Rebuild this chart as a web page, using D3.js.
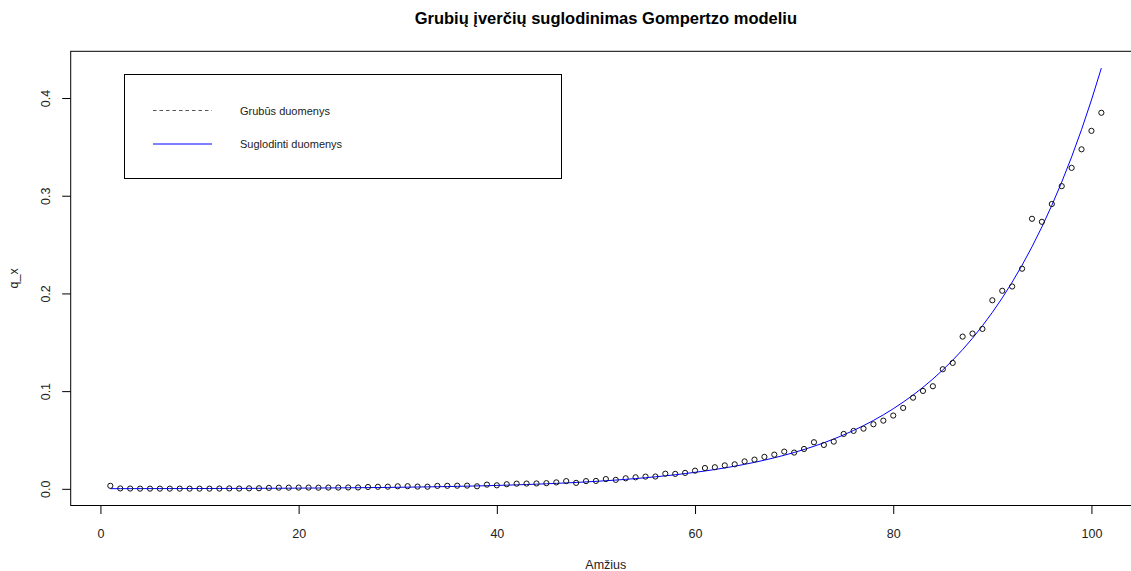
<!DOCTYPE html>
<html>
<head>
<meta charset="utf-8">
<script src="https://cdn.jsdelivr.net/npm/d3@7/dist/d3.min.js"></script>
<style>
  html, body { margin: 0; padding: 0; background: #fff; }
  svg { display: block; font-family: "Liberation Sans", Arial, sans-serif; }
</style>
</head>
<body>
<svg id="chart" width="1131" height="571"></svg>
<script>
// Ages 1..101
const ages = d3.range(1, 102);

// Crude (raw) mortality estimates q_x by age
const rawQ = [
  0.0031, 0.0004, 0.0003, 0.0002, 0.0002, 0.0002, 0.0002, 0.0002, 0.0002, 0.0002,
  0.0002, 0.0003, 0.0004, 0.0003, 0.0005, 0.0006, 0.0010, 0.0012, 0.0012, 0.0013,
  0.0013, 0.0012, 0.0013, 0.0013, 0.0014, 0.0014, 0.0019, 0.0021, 0.0022, 0.0026,
  0.0027, 0.0023, 0.0022, 0.0030, 0.0031, 0.0032, 0.0033, 0.0026, 0.0043, 0.0036,
  0.0047, 0.0053, 0.0054, 0.0055, 0.0058, 0.0066, 0.0079, 0.0061, 0.0079, 0.0081,
  0.0100, 0.0092, 0.0108, 0.0118, 0.0125, 0.0126, 0.0155, 0.0153, 0.0163, 0.0186,
  0.0213, 0.0221, 0.0240, 0.0251, 0.0281, 0.0299, 0.0327, 0.0350, 0.0381, 0.0371,
  0.0408, 0.0477, 0.0449, 0.0483, 0.0562, 0.0593, 0.0616, 0.0661, 0.0698, 0.0750,
  0.0828, 0.0933, 0.1002, 0.1050, 0.1224, 0.1289, 0.1558, 0.1589, 0.1637, 0.1930,
  0.2027, 0.2071, 0.2253, 0.2764, 0.2733, 0.2915, 0.3098, 0.3285, 0.3475, 0.3664,
  0.3849
];

// Gompertz-smoothed q_x by age
const smoothQ = [
  0.00016, 0.00017, 0.00019, 0.00020, 0.00022, 0.00024, 0.00026, 0.00028, 0.00030, 0.00033,
  0.00035, 0.00038, 0.00041, 0.00045, 0.00048, 0.00052, 0.00057, 0.00061, 0.00066, 0.00072,
  0.00078, 0.00084, 0.00091, 0.00098, 0.00106, 0.00115, 0.00124, 0.00135, 0.00146, 0.00158,
  0.00171, 0.00185, 0.00200, 0.00217, 0.00234, 0.00254, 0.00274, 0.00297, 0.00321, 0.00348,
  0.00376, 0.00407, 0.00441, 0.00477, 0.00516, 0.00559, 0.00605, 0.00654, 0.00708, 0.00766,
  0.00829, 0.00897, 0.00971, 0.01051, 0.01137, 0.01231, 0.01332, 0.01442, 0.01560, 0.01688,
  0.01827, 0.01978, 0.02140, 0.02316, 0.02506, 0.02712, 0.02935, 0.03177, 0.03438, 0.03720,
  0.04026, 0.04357, 0.04715, 0.05102, 0.05522, 0.05976, 0.06467, 0.06998, 0.07574, 0.08196,
  0.08870, 0.09599, 0.10388, 0.11242, 0.12166, 0.13166, 0.14249, 0.15420, 0.16687, 0.18059,
  0.19543, 0.21150, 0.22888, 0.24770, 0.26806, 0.29009, 0.31394, 0.33974, 0.36767, 0.39789,
  0.4306
];

const xTicks = [0, 20, 40, 60, 80, 100];
const yTicks = [0.0, 0.1, 0.2, 0.3, 0.4];

const titleText = "Grubių įverčių suglodinimas Gompertzo modeliu";
const xLabel = "Amžius";
const yLabel = "q_x";
const legendLabels = ["Grubūs duomenys", "Suglodinti duomenys"];

// Plot region (base-graphics style: data range padded by 4% on each side)
const plot = { left: 70.7, right: 1141, top: 51.3, bottom: 505.5 };

function padded(lo, hi) {
  const e = (hi - lo) * 0.04;
  return [lo - e, hi + e];
}

const xExt = d3.extent(ages);
const yExt = d3.extent(rawQ.concat(smoothQ));

const x = d3.scaleLinear().domain(padded(xExt[0], xExt[1])).range([plot.left, plot.right]);
const y = d3.scaleLinear().domain(padded(yExt[0], yExt[1])).range([plot.bottom, plot.top]);

const svg = d3.select("#chart");
svg.append("rect").attr("width", 1131).attr("height", 571).attr("fill", "#fff");

// Title
svg.append("text")
  .attr("x", (plot.left + plot.right) / 2)
  .attr("y", 23.5)
  .attr("text-anchor", "middle")
  .attr("font-size", 16.5)
  .attr("font-weight", "bold")
  .attr("fill", "#000")
  .text(titleText);

// X axis (ticks + labels, no domain line; the frame covers it)
const xAxis = d3.axisBottom(x).tickValues(xTicks).tickSize(8.5).tickPadding(15).tickFormat(d3.format("d"));
const gx = svg.append("g")
  .attr("transform", `translate(0,${plot.bottom})`)
  .call(xAxis);
gx.select(".domain").remove();
gx.selectAll("line").attr("stroke", "#000");
gx.selectAll("text")
  .attr("font-size", 12.5)
  .attr("font-family", "Liberation Sans, Arial, sans-serif")
  .attr("fill", "#222");

// Y axis with rotated tick labels
const yAxis = d3.axisLeft(y).tickValues(yTicks).tickSize(8.5).tickFormat(d3.format(".1f"));
const gy = svg.append("g")
  .attr("transform", `translate(${plot.left},0)`)
  .call(yAxis);
gy.select(".domain").remove();
gy.selectAll("line").attr("stroke", "#000");
gy.selectAll("text")
  .attr("font-size", 12.5)
  .attr("font-family", "Liberation Sans, Arial, sans-serif")
  .attr("fill", "#222")
  .attr("text-anchor", "middle")
  .attr("dy", null)
  .attr("x", null)
  .attr("transform", `translate(${50 - plot.left},0) rotate(-90)`);

// Frame
svg.append("rect")
  .attr("x", plot.left).attr("y", plot.top)
  .attr("width", plot.right - plot.left).attr("height", plot.bottom - plot.top)
  .attr("fill", "none").attr("stroke", "#000").attr("stroke-width", 1);

// Axis titles
svg.append("text")
  .attr("x", (plot.left + plot.right) / 2)
  .attr("y", 568.5)
  .attr("text-anchor", "middle")
  .attr("font-size", 12.5)
  .attr("fill", "#222")
  .text(xLabel);

svg.append("text")
  .attr("transform", `translate(17.5,${(plot.top + plot.bottom) / 2}) rotate(-90)`)
  .attr("text-anchor", "middle")
  .attr("font-size", 12.5)
  .attr("fill", "#222")
  .text(yLabel);

// Smoothed Gompertz curve
const line = d3.line().x((d, i) => x(ages[i])).y(d => y(d));
svg.append("path")
  .datum(smoothQ)
  .attr("d", line)
  .attr("fill", "none")
  .attr("stroke", "#0000ff")
  .attr("stroke-width", 1);

// Raw estimates as open circles
svg.append("g").selectAll("circle")
  .data(rawQ)
  .join("circle")
  .attr("cx", (d, i) => x(ages[i]))
  .attr("cy", d => y(d))
  .attr("r", 2.6)
  .attr("fill", "none")
  .attr("stroke", "#111")
  .attr("stroke-width", 1);

// Legend
const lg = svg.append("g");
lg.append("rect")
  .attr("x", 124.5).attr("y", 74.5)
  .attr("width", 437).attr("height", 104)
  .attr("fill", "#fff").attr("stroke", "#000").attr("stroke-width", 1);

const legendRows = [
  { label: legendLabels[0], stroke: "#555", dash: "3.5,3", ly: 110.5 },
  { label: legendLabels[1], stroke: "#0000ff", dash: null, ly: 144 }
];
legendRows.forEach(r => {
  lg.append("line")
    .attr("x1", 153).attr("x2", 212)
    .attr("y1", r.ly).attr("y2", r.ly)
    .attr("stroke", r.stroke)
    .attr("stroke-width", 1)
    .attr("stroke-dasharray", r.dash);
  lg.append("text")
    .attr("x", 240)
    .attr("y", r.ly + 4)
    .attr("font-size", 11)
    .attr("fill", "#222")
    .text(r.label);
});
</script>
</body>
</html>
